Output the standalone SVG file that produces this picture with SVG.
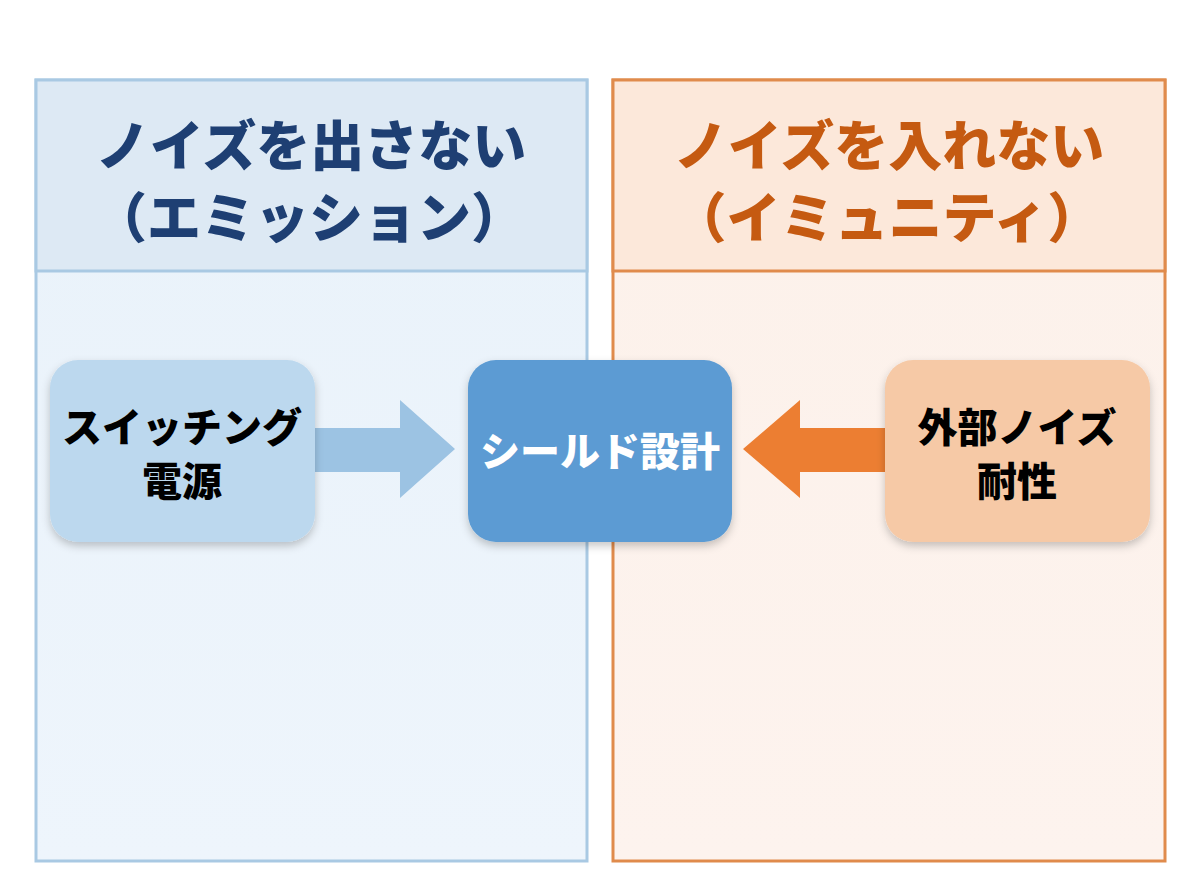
<svg xmlns="http://www.w3.org/2000/svg" width="1200" height="896" viewBox="0 0 1200 896">
<defs>
<filter id="sh" x="-20%" y="-20%" width="140%" height="150%">
<feDropShadow dx="0" dy="4" stdDeviation="4" flood-color="#000" flood-opacity="0.22"/>
</filter>
<linearGradient id="lb" x1="0" y1="0" x2="0" y2="1"><stop offset="0" stop-color="#e9f2fa"/><stop offset="1" stop-color="#eef5fc"/></linearGradient>
<linearGradient id="rb" x1="0" y1="0" x2="0" y2="1"><stop offset="0" stop-color="#fcf1ea"/><stop offset="1" stop-color="#fdf3ee"/></linearGradient>
</defs>
<style>
.t{font-family:"Noto Sans CJK JP","Noto Sans",sans-serif;font-weight:900;text-anchor:middle}
.h{font-size:54px}
.n{font-size:40px}
</style>
<rect width="1200" height="896" fill="#ffffff"/>
<g id="panel-emission">
<rect x="36" y="80" width="551" height="781" fill="url(#lb)" stroke="#a9c9e3" stroke-width="3"/>
<rect x="36" y="80" width="551" height="191" fill="#dde9f4" stroke="#a9c9e3" stroke-width="3"/>
<text class="t h" x="311" y="166" fill="#1e3f73">ノイズを出さない</text>
<text class="t h" x="309" y="238" fill="#1e3f73">（エミッション）</text>
</g>
<g id="panel-immunity">
<rect x="613" y="80" width="552" height="781" fill="url(#rb)" stroke="#e08b4c" stroke-width="3"/>
<rect x="613" y="80" width="552" height="191" fill="#fce8da" stroke="#e08b4c" stroke-width="3"/>
<text class="t h" x="889" y="166" fill="#c55a11">ノイズを入れない</text>
<text class="t h" x="887" y="238" fill="#c55a11">（イミュニティ）</text>
</g>
<g id="connectors">
<polygon points="315,428 400,428 400,400 455,449 400,498 400,472 315,472" fill="#9cc3e3"/>
<polygon points="885,428 800,428 800,400 743,449 800,498 800,472 885,472" fill="#ec7e32"/>
</g>
<g id="node-switching">
<rect x="50" y="360" width="265" height="182" rx="28" fill="#bcd8ee" filter="url(#sh)"/>
<text class="t n" x="182" y="442" fill="#000">スイッチング</text>
<text class="t n" x="182" y="496" fill="#000">電源</text>
</g>
<g id="node-shield">
<rect x="468" y="360" width="264" height="182" rx="28" fill="#5b9bd3" filter="url(#sh)"/>
<text class="t n" x="600" y="466" fill="#ffffff">シールド設計</text>
</g>
<g id="node-external">
<rect x="885" y="360" width="265" height="182" rx="28" fill="#f6c9a6" filter="url(#sh)"/>
<text class="t n" x="1017" y="442" fill="#000">外部ノイズ</text>
<text class="t n" x="1017" y="496" fill="#000">耐性</text>
</g>
</svg>
